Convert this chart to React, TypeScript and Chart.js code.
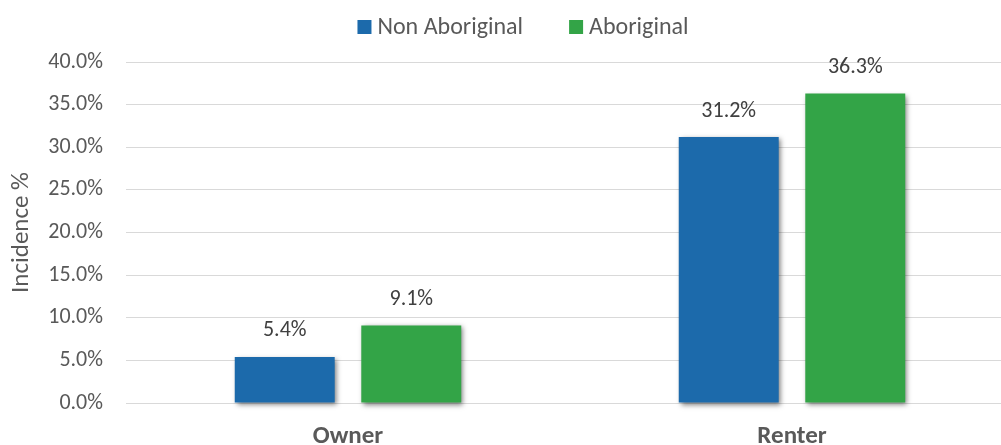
import React, { useEffect, useRef } from "react";
import { Chart, registerables } from "chart.js";

Chart.register(...registerables);

const categories = ["Owner", "Renter"];
const seriesNames = ["Non Aboriginal", "Aboriginal"];
const nonAboriginal = [5.4, 31.2];
const aboriginal = [9.1, 36.3];
const seriesColors = ["#1C6AAB", "#33A447"];
const yMin = 0;
const yMax = 40;
const yStep = 5;
const yTitle = "Incidence %";

const FONT = "Carlito, Lato, 'Open Sans', sans-serif";
const AXIS_COLOR = "#595959";
const LABEL_COLOR = "#404040";

export default function App() {
  const ref = useRef<HTMLCanvasElement | null>(null);

  useEffect(() => {
    if (!ref.current) return;

    const shadowPlugin = {
      id: "barShadow",
      beforeDatasetsDraw(chart: any) {
        const c = chart.ctx;
        c.save();
        c.shadowColor = "rgba(0,0,0,0.5)";
        c.shadowBlur = 5;
        c.shadowOffsetX = 2;
        c.shadowOffsetY = 2;
      },
      afterDatasetsDraw(chart: any) {
        chart.ctx.restore();
      },
    };

    const valueLabels = {
      id: "valueLabels",
      afterDatasetsDraw(chart: any) {
        const c = chart.ctx;
        c.save();
        c.font = `22px ${FONT}`;
        c.fillStyle = LABEL_COLOR;
        c.textAlign = "center";
        c.textBaseline = "middle";
        chart.data.datasets.forEach((ds: any, i: number) => {
          const meta = chart.getDatasetMeta(i);
          meta.data.forEach((el: any, j: number) => {
            c.fillText(ds.data[j].toFixed(1) + "%", el.x, el.y - 26);
          });
        });
        c.restore();
      },
    };

    const customLegend = {
      id: "customLegend",
      afterDraw(chart: any) {
        const c = chart.ctx;
        c.save();
        c.font = `24px ${FONT}`;
        c.textBaseline = "middle";
        c.textAlign = "left";
        const box = 14;
        const gap = 6;
        const spacing = 46;
        const items = chart.data.datasets.map((ds: any) => ({
          text: ds.label,
          color: ds.backgroundColor,
          w: c.measureText(ds.label).width,
        }));
        let total = 0;
        items.forEach((it: any, i: number) => {
          total += box + gap + it.w + (i < items.length - 1 ? spacing : 0);
        });
        const centerX = 523;
        const cy = 27;
        let x = centerX - total / 2;
        items.forEach((it: any) => {
          c.fillStyle = it.color;
          c.fillRect(x, cy - box / 2, box, box);
          x += box + gap;
          c.fillStyle = AXIS_COLOR;
          c.fillText(it.text, x, cy + 1);
          x += it.w + spacing;
        });
        c.restore();
      },
    };

    const chart = new Chart(ref.current, {
      type: "bar",
      data: {
        labels: categories,
        datasets: [
          {
            label: seriesNames[0],
            data: nonAboriginal,
            backgroundColor: seriesColors[0],
            barPercentage: 0.79,
            categoryPercentage: 0.57,
            clip: false as any,
          },
          {
            label: seriesNames[1],
            data: aboriginal,
            backgroundColor: seriesColors[1],
            barPercentage: 0.79,
            categoryPercentage: 0.57,
            clip: false as any,
          },
        ],
      },
      options: {
        animation: false,
        responsive: false,
        maintainAspectRatio: false,
        layout: { padding: { top: 62, left: 0, right: 0, bottom: 0 } },
        plugins: {
          legend: { display: false },
          tooltip: { enabled: false },
        },
        scales: {
          x: {
            grid: { display: false, drawTicks: false },
            border: { display: false },
            ticks: {
              color: AXIS_COLOR,
              font: { family: FONT, size: 25, weight: "bold", lineHeight: 1 },
              padding: 21,
            },
          },
          y: {
            min: yMin,
            max: yMax,
            border: { display: false },
            grid: { color: "#D9D9D9", lineWidth: 1, drawTicks: false },
            ticks: {
              stepSize: yStep,
              color: AXIS_COLOR,
              font: { family: FONT, size: 22 },
              padding: 23,
              callback: (v: any) => Number(v).toFixed(1) + "%",
            },
            title: {
              display: true,
              text: yTitle,
              color: AXIS_COLOR,
              font: { family: FONT, size: 25 },
              padding: { top: 7, bottom: 0 },
            },
            afterFit: (scale: any) => {
              scale.width = 126;
            },
          },
        },
      },
      plugins: [shadowPlugin, valueLabels, customLegend],
    });

    return () => chart.destroy();
  }, []);

  return (
    <div
      style={{
        position: "fixed",
        left: 0,
        top: 0,
        width: 1001,
        height: 445,
        overflow: "hidden",
        background: "#fff",
      }}
    >
      <canvas ref={ref} width={1014} height={470} style={{ display: "block" }} />
    </div>
  );
}
